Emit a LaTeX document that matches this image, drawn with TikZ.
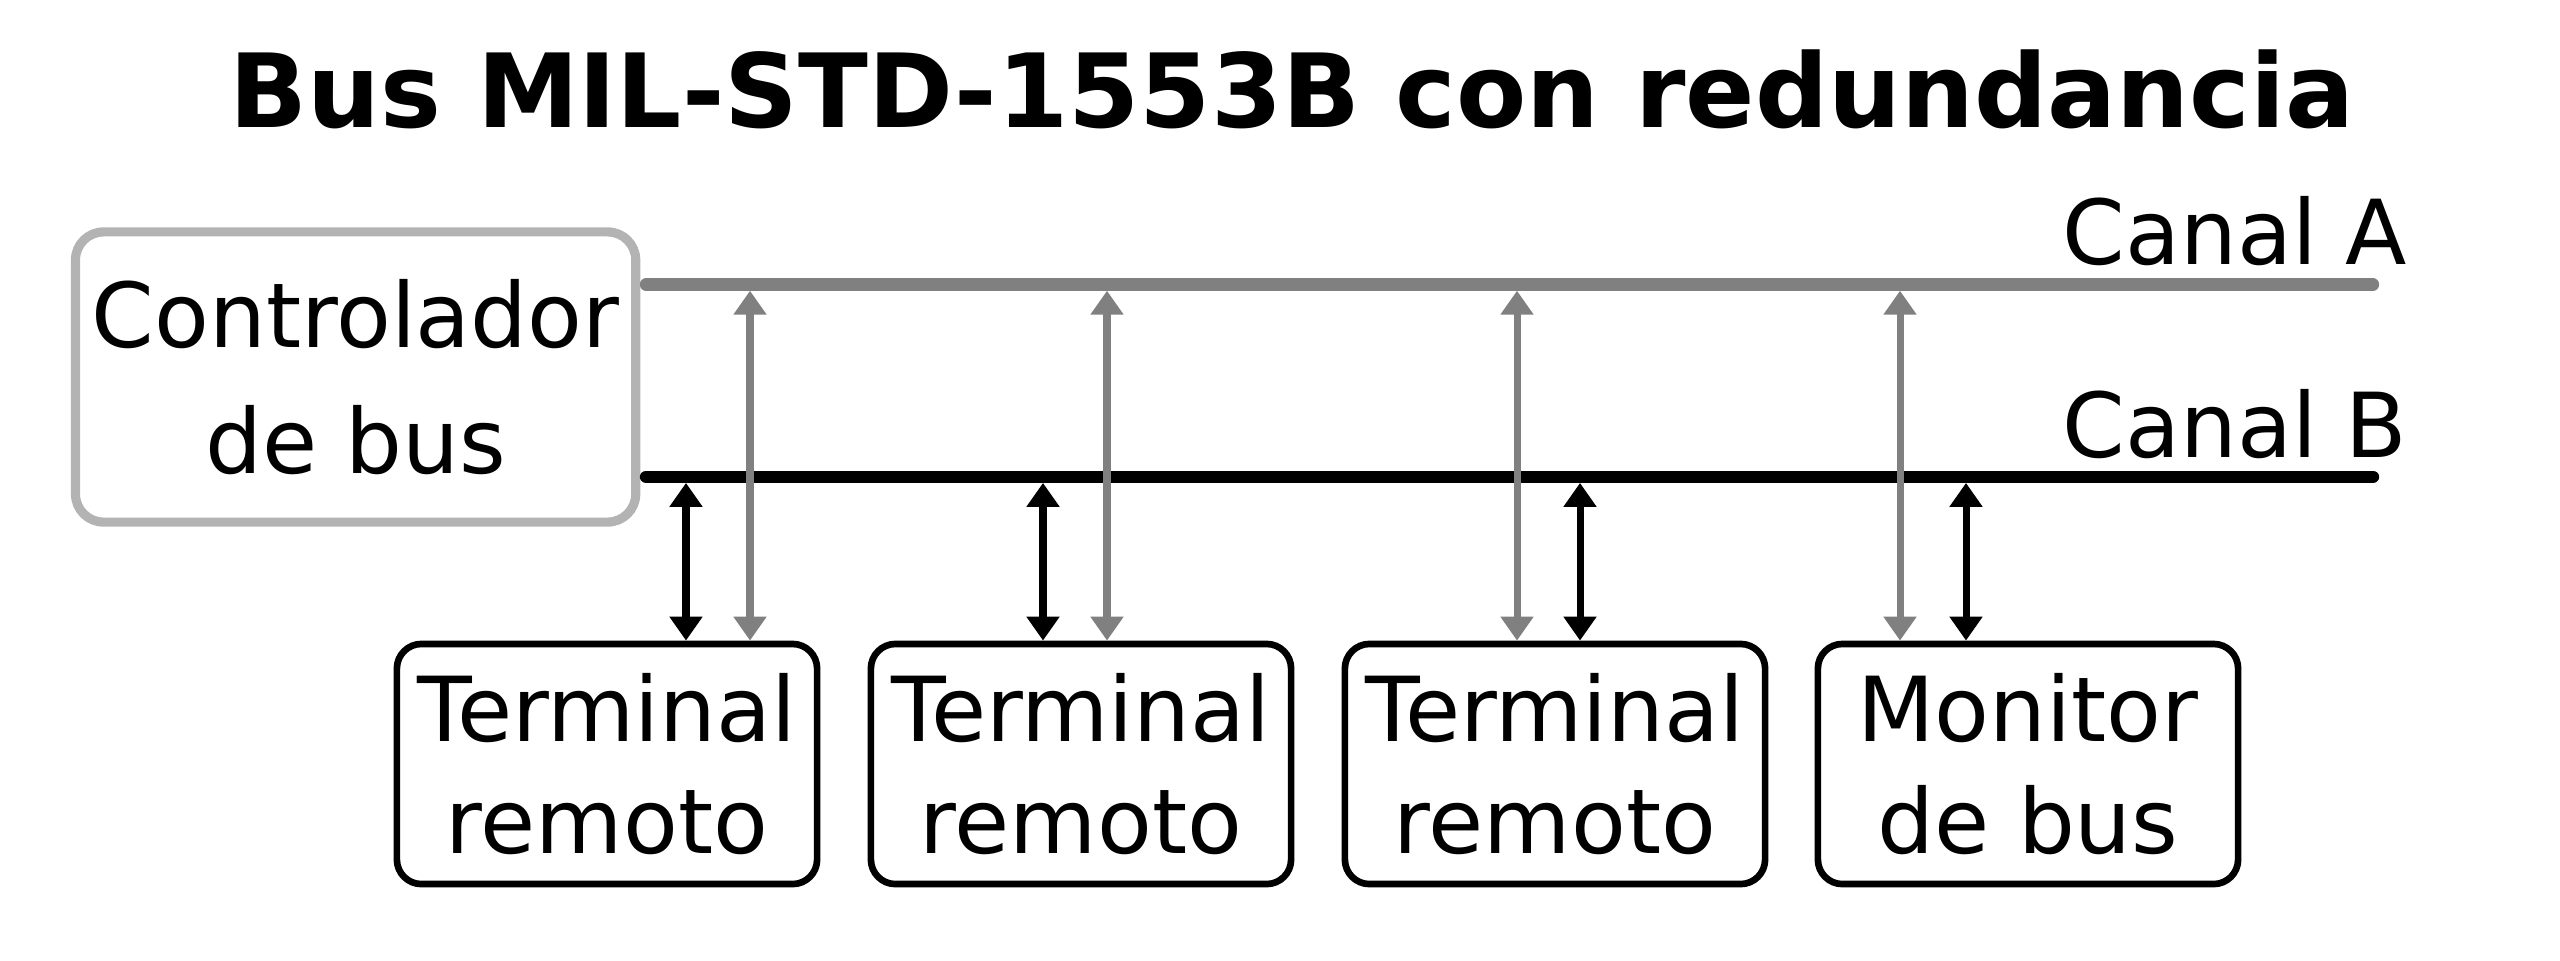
\documentclass[tikz,border=0pt]{standalone}
\usepackage{fontspec}
\setmainfont{DejaVu Sans}
\usetikzlibrary{arrows.meta}
\definecolor{busgray}{HTML}{808080}
\definecolor{ctrlgray}{HTML}{B3B3B3}

\begin{document}
\begin{tikzpicture}[x=0.01cm, y=-0.01cm,
    box/.style={draw, line width=1.9pt, rounded corners=7pt, minimum width=4.20cm,
      minimum height=2.40cm, align=center, inner sep=0pt,
      font=\fontsize{25.5}{31.6}\selectfont},
    ctrl/.style={box, draw=ctrlgray, line width=2.6pt, rounded corners=8pt,
      minimum width=5.60cm, minimum height=2.90cm, font=\fontsize{25.5}{36}\selectfont},
    bus/.style={line width=3.5pt, line cap=round},
    link/.style={{Triangle[length=6.8pt,width=9pt]}-{Triangle[length=6.8pt,width=9pt]},
      line width=2pt},
    chanlabel/.style={anchor=base west, inner sep=0pt, font=\fontsize{25.5}{30}\selectfont}]
  \useasboundingbox (0,0) rectangle (2560,960);

  % title
  \node[anchor=base, inner sep=0pt, font=\bfseries\fontsize{29.1}{35}\selectfont] (title)
    at (1292,127) {Bus MIL-STD-1553B con redundancia};

  % bus controller
  \node[ctrl] (bc) at (355.6,377) {Controlador\\de bus};

  % the two channels
  \coordinate (A0) at (646,284.5);
  \coordinate (A1) at (2373,284.5);
  \coordinate (B0) at (646,476.7);
  \coordinate (B1) at (2373,476.7);
  \draw[bus, busgray] (A0) -- (A1);
  \draw[bus] (B0) -- (B1);
  \node[chanlabel] (labA) at (2062,264) {Canal A};
  \node[chanlabel] (labB) at (2062,457) {Canal B};

  % terminals
  \node[box] (t1) at (607,764) {Terminal\\remoto};
  \node[box] (t2) at (1081,764) {Terminal\\remoto};
  \node[box] (t3) at (1555,764) {Terminal\\remoto};
  \node[box] (t4) at (2028,764) {Monitor\\de bus};

  % stubs to both channels
  \foreach \t/\g/\b in {t1/750/686, t2/1107/1043, t3/1517/1580, t4/1900/1966} {
    \coordinate (g-\t) at (\g,290.7);
    \coordinate (b-\t) at (\b,482.9);
    \draw[link, busgray] (g-\t) -- (g-\t |- \t.north);
    \draw[link] (b-\t) -- (b-\t |- \t.north);
  }
\end{tikzpicture}
\end{document}
